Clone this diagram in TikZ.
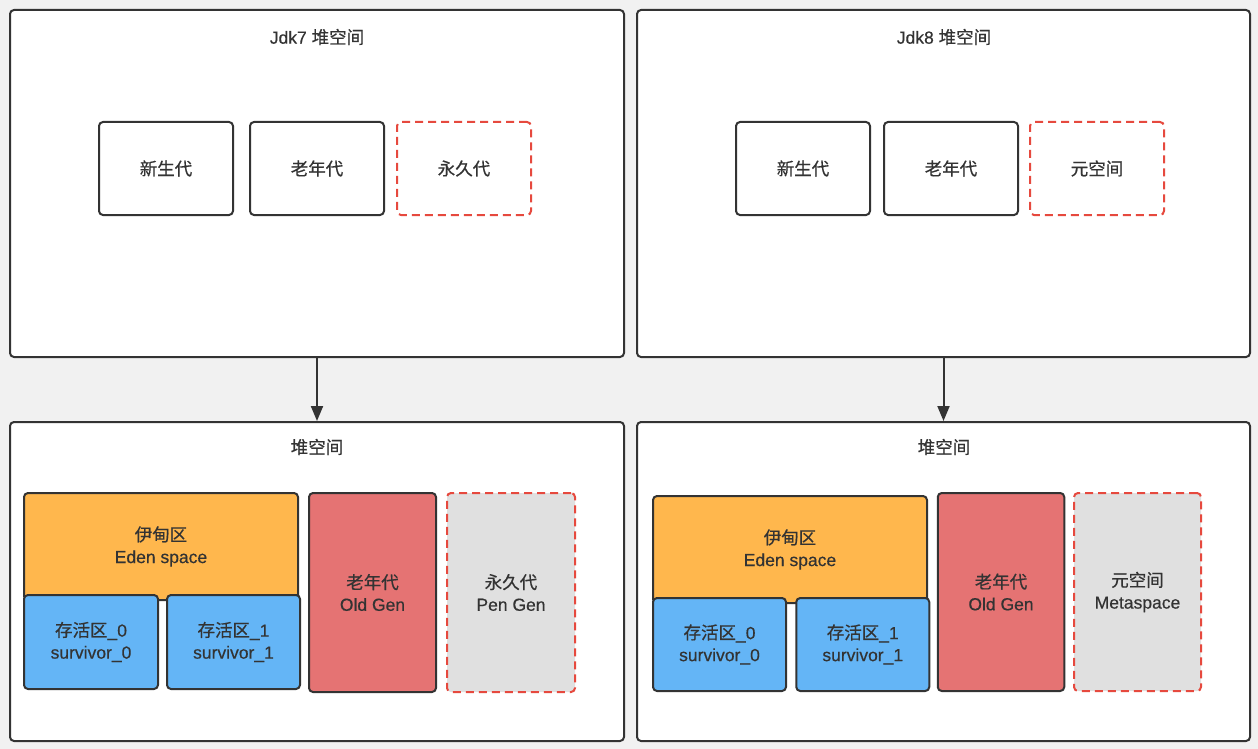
\documentclass[tikz,border=0pt]{standalone}
\usepackage{fontspec}
\setmainfont{Liberation Sans}[FakeBold=0.4]
\newfontfamily\cjk{Noto Sans CJK SC}[FakeBold=0.6]
\usetikzlibrary{arrows.meta}
\definecolor{HSBack}{HTML}{F1F1F1}
\definecolor{HSLine}{HTML}{333333}
\definecolor{HSRed}{HTML}{E6493E}
\definecolor{HSEden}{HTML}{FFB74D}
\definecolor{HSSurv}{HTML}{64B5F6}
\definecolor{HSOld}{HTML}{E57373}
\definecolor{HSPerm}{HTML}{E0E0E0}
\tikzset{
  panel/.style={draw=HSLine,fill=white,line width=2pt,rounded corners=4pt,inner sep=0pt},
  genbox/.style={draw=HSLine,fill=white,line width=2pt,rounded corners=4pt,inner sep=0pt,
    text=HSLine,align=center,font=\fontsize{17.5}{22}\selectfont},
  gonebox/.style={genbox,draw=HSRed,dash pattern=on 8pt off 5pt},
  titletext/.style={text=HSLine,font=\fontsize{17.5}{22}\selectfont,inner sep=0pt},
  flow/.style={draw=HSLine,line width=2pt,-{Triangle[length=15pt,width=12pt]}}
}

\begin{document}
\begin{tikzpicture}[x=1pt,y=-1pt]
\path[use as bounding box] (0,0) rectangle (1258,749);
\fill[HSBack] (0,0) rectangle (1258,749);
% outer panels
\node[panel,minimum width=614,minimum height=347] (jdkseven) at (317,183.5) {};
\node[panel,minimum width=613,minimum height=347] (jdkeight) at (943.5,183.5) {};
\node[panel,minimum width=614,minimum height=319] (heapseven) at (317,581.5) {};
\node[panel,minimum width=613,minimum height=319] (heapeight) at (943.5,581.5) {};
\node[titletext] (tseven) at (317,37) {Jdk7 {\cjk 堆空间}};
\node[titletext] (teight) at (944,37) {Jdk8 {\cjk 堆空间}};
\node[titletext] (theapseven) at (317,447) {\cjk 堆空间};
\node[titletext] (theapeight) at (944,447) {\cjk 堆空间};
% jdk7 generations
\node[genbox,minimum width=134,minimum height=93] (youngseven) at (166,168.5) {\cjk 新生代};
\node[genbox,minimum width=134,minimum height=93] (oldseven) at (317,168.5) {\cjk 老年代};
\node[gonebox,minimum width=134,minimum height=93] (permseven) at (464,168.5) {\cjk 永久代};
% jdk8 generations
\node[genbox,minimum width=134,minimum height=93] (youngeight) at (803,168.5) {\cjk 新生代};
\node[genbox,minimum width=134,minimum height=93] (oldeight) at (951,168.5) {\cjk 老年代};
\node[gonebox,minimum width=134,minimum height=93] (metaeight) at (1097,168.5) {\cjk 元空间};
% jdk7 heap layout
\node[genbox,fill=HSEden,minimum width=274,minimum height=107] (edenseven) at (161,546.5) {{\cjk 伊甸区}\\Eden space};
\node[genbox,fill=HSSurv,minimum width=134,minimum height=94] (survaseven) at (91,642) {{\cjk 存活区}\_0\\survivor\_0};
\node[genbox,fill=HSSurv,minimum width=133,minimum height=94] (survbseven) at (233.5,642) {{\cjk 存活区}\_1\\survivor\_1};
\node[genbox,fill=HSOld,minimum width=127,minimum height=199] (oldgenseven) at (372.5,592.5) {{\cjk 老年代}\\Old Gen};
\node[gonebox,fill=HSPerm,minimum width=128,minimum height=199] (pengenseven) at (511,592.5) {{\cjk 永久代}\\Pen Gen};
% jdk8 heap layout
\node[genbox,fill=HSEden,minimum width=274,minimum height=107] (edeneight) at (790,549.5) {{\cjk 伊甸区}\\Eden space};
\node[genbox,fill=HSSurv,minimum width=133,minimum height=93] (surva8) at (719.5,644.5) {{\cjk 存活区}\_0\\survivor\_0};
\node[genbox,fill=HSSurv,minimum width=133,minimum height=93] (survb8) at (862.75,644.5) {{\cjk 存活区}\_1\\survivor\_1};
\node[genbox,fill=HSOld,minimum width=126.5,minimum height=198] (oldgeneight) at (1001,592) {{\cjk 老年代}\\Old Gen};
\node[gonebox,fill=HSPerm,minimum width=127,minimum height=198] (metagen8) at (1137.5,592) {{\cjk 元空间}\\Metaspace};
% arrows
\draw[flow] (jdkseven.south) -- (heapseven.north);
\draw[flow] (jdkeight.south) -- (heapeight.north);
\end{tikzpicture}
\end{document}
